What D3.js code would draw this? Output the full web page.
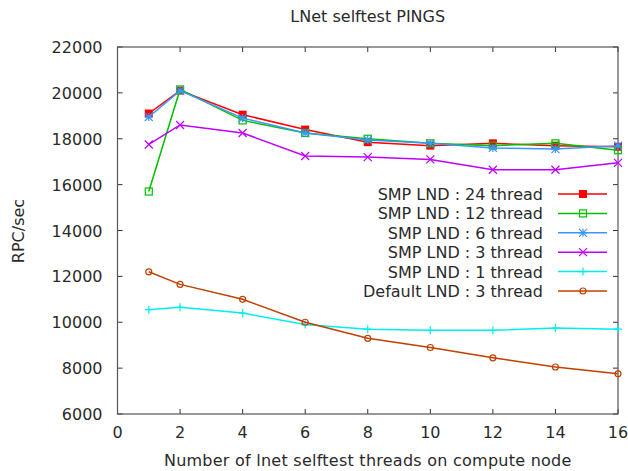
<!DOCTYPE html>
<html>
<head>
<meta charset="utf-8">
<script src="https://cdn.jsdelivr.net/npm/d3@7"></script>
<style>
  body { margin: 0; background: #fff; }
  text { font-family: "DejaVu Sans", sans-serif; fill: #2a2a2a; }
</style>
</head>
<body>
<div id="chart"></div>
<script>
let threads = [1, 2, 4, 6, 8, 10, 12, 14, 16]

let smp24 = [19100, 20100, 19050, 18400, 17850, 17700, 17800, 17700, 17650]
let smp12 = [15700, 20150, 18800, 18250, 18000, 17800, 17700, 17800, 17500]
let smp6 = [18950, 20100, 18900, 18250, 17950, 17800, 17600, 17550, 17700]
let smp3 = [17750, 18600, 18250, 17250, 17200, 17100, 16650, 16650, 16950]
let smp1 = [10550, 10650, 10400, 9900, 9700, 9650, 9650, 9750, 9700]
let def3 = [12200, 11650, 11000, 10000, 9300, 8900, 8450, 8050, 7750]

let seriesNames = ['SMP LND : 24 thread', 'SMP LND : 12 thread', 'SMP LND : 6 thread',
  'SMP LND : 3 thread', 'SMP LND : 1 thread', 'Default LND : 3 thread']
let seriesValues = [smp24, smp12, smp6, smp3, smp1, def3]
let seriesColors = ['#ff0000', '#00c000', '#3a96ff', '#c000ff', '#00eeee', '#c04000']
let seriesMarks = ['fsquare', 'square', 'star', 'cross', 'plus', 'circle']

let xTicks = [0, 2, 4, 6, 8, 10, 12, 14, 16]
let yTicks = [6000, 8000, 10000, 12000, 14000, 16000, 18000, 20000, 22000]

let width = 628
let height = 471
let pLeft = 117.5, pRight = 618, pTop = 47, pBottom = 414
let fs = 16

let svg = d3.select('#chart')
  .append('svg')
    .attr('width', width)
    .attr('height', height)

let x = d3.scaleLinear().domain([0, 16]).range([pLeft, pRight])
let y = d3.scaleLinear().domain([6000, 22000]).range([pBottom, pTop])

// ticks on all four sides, pointing inward
let tickLen = 5
let ticks = svg.append('g').attr('stroke', '#333').attr('stroke-width', 1)
xTicks.forEach(t => {
  ticks.append('line').attr('x1', x(t)).attr('x2', x(t)).attr('y1', pBottom).attr('y2', pBottom - tickLen)
  ticks.append('line').attr('x1', x(t)).attr('x2', x(t)).attr('y1', pTop).attr('y2', pTop + tickLen)
})
yTicks.forEach(t => {
  ticks.append('line').attr('y1', y(t)).attr('y2', y(t)).attr('x1', pLeft).attr('x2', pLeft + tickLen)
  ticks.append('line').attr('y1', y(t)).attr('y2', y(t)).attr('x1', pRight).attr('x2', pRight - tickLen)
})

svg.append('g').selectAll('text')
  .data(xTicks)
  .enter()
  .append('text')
    .attr('x', d => x(d))
    .attr('y', pBottom + 24)
    .attr('text-anchor', 'middle')
    .attr('font-size', fs)
    .text(d => d)

svg.append('g').selectAll('text')
  .data(yTicks)
  .enter()
  .append('text')
    .attr('x', pLeft - 15)
    .attr('y', d => y(d) + 6)
    .attr('text-anchor', 'end')
    .attr('font-size', fs)
    .text(d => d)

svg.append('rect')
  .attr('x', pLeft)
  .attr('y', pTop)
  .attr('width', pRight - pLeft)
  .attr('height', pBottom - pTop)
  .attr('fill', 'none')
  .attr('stroke', '#555')
  .attr('stroke-width', 1.2)

svg.append('text')
  .attr('x', (pLeft + pRight) / 2)
  .attr('y', 22)
  .attr('text-anchor', 'middle')
  .attr('font-size', fs)
  .text('LNet selftest PINGS')

svg.append('text')
  .attr('x', (pLeft + pRight) / 2)
  .attr('y', 466)
  .attr('text-anchor', 'middle')
  .attr('font-size', fs)
  .attr('letter-spacing', 0.25)
  .text('Number of lnet selftest threads on compute node')

svg.append('text')
  .attr('transform', 'translate(24, 231) rotate(-90)')
  .attr('text-anchor', 'middle')
  .attr('font-size', fs)
  .text('RPC/sec')

let drawMark = (g, kind, cx, cy, color) => {
  let s = 4
  if (kind === 'fsquare') {
    g.append('rect').attr('x', cx - s).attr('y', cy - s).attr('width', 2 * s).attr('height', 2 * s)
      .attr('fill', color)
  } else if (kind === 'square') {
    g.append('rect').attr('x', cx - s + 0.5).attr('y', cy - s + 0.5).attr('width', 2 * s - 1).attr('height', 2 * s - 1)
      .attr('fill', 'none').attr('stroke', color).attr('stroke-width', 1.2)
  } else if (kind === 'circle') {
    g.append('circle').attr('cx', cx).attr('cy', cy).attr('r', 3)
      .attr('fill', 'none').attr('stroke', color).attr('stroke-width', 1.2)
  } else {
    let p = ''
    if (kind === 'plus' || kind === 'star') {
      p += `M${cx - s},${cy}H${cx + s}M${cx},${cy - s}V${cy + s}`
    }
    if (kind === 'cross' || kind === 'star') {
      p += `M${cx - s},${cy - s}L${cx + s},${cy + s}M${cx - s},${cy + s}L${cx + s},${cy - s}`
    }
    g.append('path').attr('d', p).attr('fill', 'none').attr('stroke', color).attr('stroke-width', 1.2)
  }
}

let line = d3.line()
  .x((d, i) => x(threads[i]))
  .y(d => y(d))

let plot = svg.append('g')
seriesValues.forEach((vals, k) => {
  plot.append('path')
    .attr('d', line(vals))
    .attr('fill', 'none')
    .attr('stroke', seriesColors[k])
    .attr('stroke-width', 1.5)
  let mg = plot.append('g')
  vals.forEach((v, i) => drawMark(mg, seriesMarks[k], x(threads[i]), y(v), seriesColors[k]))
})

// legend
let legend = svg.append('g')
seriesNames.forEach((name, k) => {
  let ly = 194 + k * 19.4
  legend.append('text')
    .attr('x', 543)
    .attr('y', ly + 6)
    .attr('text-anchor', 'end')
    .attr('font-size', fs)
    .text(name)
  legend.append('line')
    .attr('x1', 558).attr('x2', 607)
    .attr('y1', ly).attr('y2', ly)
    .attr('stroke', seriesColors[k])
    .attr('stroke-width', 1.5)
  drawMark(legend, seriesMarks[k], 583, ly, seriesColors[k])
})
</script>
</body>
</html>
